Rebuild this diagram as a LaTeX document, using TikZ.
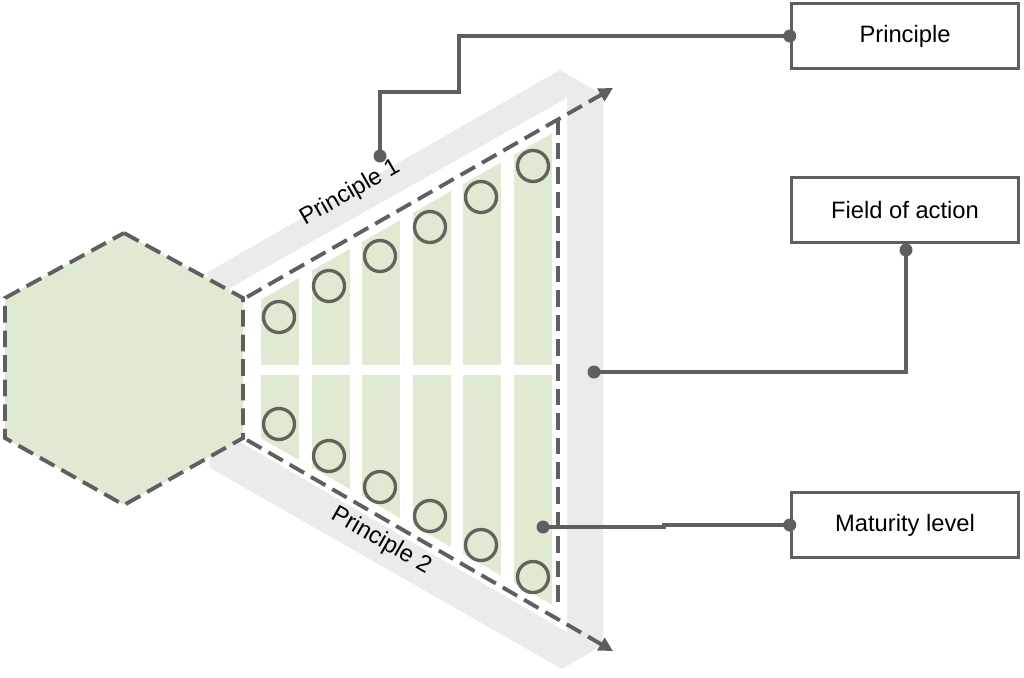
\documentclass[tikz,border=0pt]{standalone}
\usepackage{fontspec}
\setmainfont{Liberation Sans}
\usetikzlibrary{arrows.meta,positioning,calc}
\definecolor{leaf}{HTML}{E0EAD2}
\definecolor{band}{HTML}{EBEBEB}
\definecolor{ink}{HTML}{5F5F5F}
\definecolor{ring}{HTML}{60645C}

\begin{document}
\begin{tikzpicture}[x=0.02cm, y=-0.02cm, >={Triangle[length=8pt,width=8pt]}]
    \tikzstyle{frame} = [rectangle, draw=ink, line width=2pt, fill=white, minimum width=4.54cm, minimum height=1.3cm, font=\fontsize{13.5}{16}\selectfont]
    \tikzstyle{edge} = [draw=ink, line width=2.2pt, dash pattern=on 9.5pt off 4.5pt]
    \tikzstyle{link} = [draw=ink, line width=2pt]
    \tikzstyle{dot} = [circle, fill=ink, inner sep=0pt, minimum size=0.26cm]
    \tikzstyle{level} = [draw=ring, line width=1.9pt]
    \useasboundingbox (0,0) rectangle (1024,677);

    % grey bands and white gap
    \fill[band] (208,272) -- (560,70) -- (603,95) -- (603,645) -- (562,669) -- (210,468) -- cycle;
    \fill[white] (230,288) -- (567,98) -- (567,632) -- (230,436) -- cycle;

    % hexagon
    \draw[edge, fill=leaf] (124,233) -- (243,298) -- (243,438) -- (124,505) -- (5,438) -- (5,298) -- cycle;

    % fields of action
    \begin{scope}
        \clip (250,306) -- (556,131) -- (556,607) -- (250,432) -- cycle;
        \foreach \x in {261,312,362,413,463,514}
            {\fill[leaf] (\x,100) rectangle ++(38,265);
             \fill[leaf] (\x,375) rectangle ++(38,260);}
    \end{scope}

    % maturity levels
    \foreach \x/\a/\b in {279/317/424, 329/286/456, 380/256/487, 430/227/516, 481/197/545, 533/166/577}
        {\draw[level] (\x,\a) circle (15.5);
         \draw[level] (\x,\b) circle (15.5);}

    % principle axes
    \draw[edge, ->] (247,297) -- (613,88);
    \draw[edge, ->] (247,440) -- (613,651);
    \draw[edge] (558,118) -- (558,608);

    \node[rotate=29.8, font=\fontsize{13.5}{16}\selectfont] (p1) at (350,193) {Principle 1};
    \node[rotate=-29.8, font=\fontsize{13.5}{16}\selectfont] (p2) at (381,541) {Principle 2};

    % legend boxes
    \node[frame] (principle) at (905,36) {Principle};
    \node[frame] (field) at (905,210) {Field of action};
    \node[frame] (maturity) at (905,525) {Maturity level};

    \node[dot] (d1) at (380,156) {};
    \node[dot] (d2) at (594,372) {};
    \node[dot] (d3) at (543,527) {};
    \node[dot] (e1) at (principle.west) {};
    \node[dot] (e2) at (906,250) {};
    \node[dot] (e3) at (maturity.west) {};

    \draw[link] (e1.center) -| (459,92) -| (d1.center);
    \draw[link] (e2.center) |- (d2.center);
    \draw[link] (e3.center) -- (664,525) -- (664,527) -- (d3.center);
\end{tikzpicture}
\end{document}
